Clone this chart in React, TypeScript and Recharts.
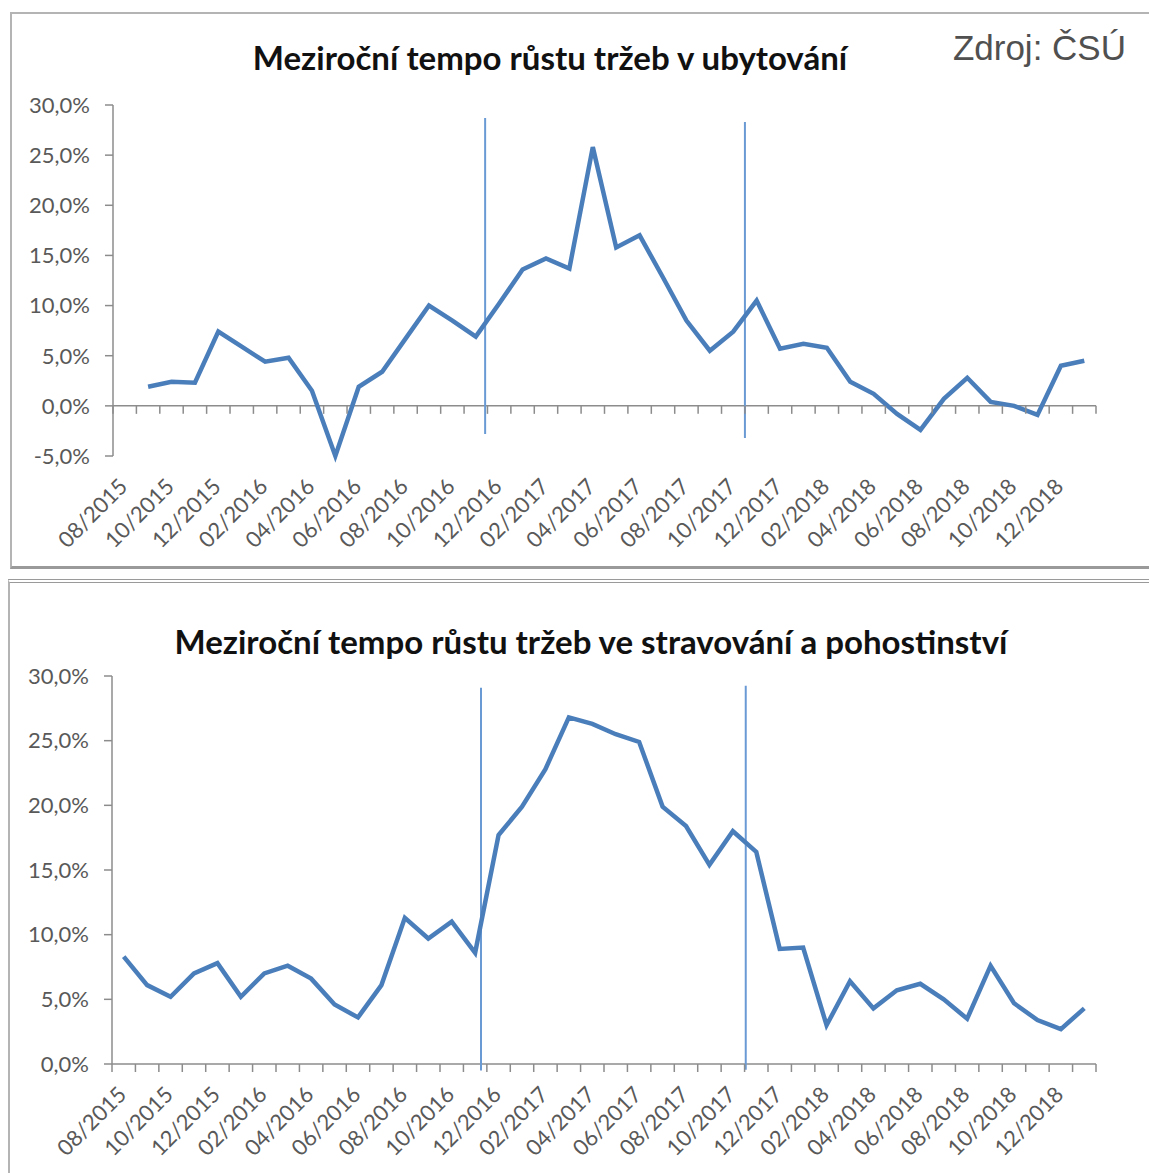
import React from 'react';
import { ComposedChart, Line, XAxis, YAxis, ReferenceLine, Scatter } from 'recharts';

const months = [
  '08/2015', '09/2015', '10/2015', '11/2015', '12/2015',
  '01/2016', '02/2016', '03/2016', '04/2016', '05/2016', '06/2016', '07/2016', '08/2016', '09/2016', '10/2016', '11/2016', '12/2016',
  '01/2017', '02/2017', '03/2017', '04/2017', '05/2017', '06/2017', '07/2017', '08/2017', '09/2017', '10/2017', '11/2017', '12/2017',
  '01/2018', '02/2018', '03/2018', '04/2018', '05/2018', '06/2018', '07/2018', '08/2018', '09/2018', '10/2018', '11/2018', '12/2018',
  '01/2019',
];

const ubytovani: (number | null)[] = [
  null, 1.9, 2.4, 2.3, 7.4, 5.9, 4.4, 4.8, 1.5, -5.0, 1.9, 3.4, 6.7, 10.0, 8.5, 6.9, 10.2,
  13.6, 14.7, 13.7, 25.8, 15.8, 17.0, 12.8, 8.5, 5.5, 7.4, 10.5, 5.7,
  6.2, 5.8, 2.4, 1.2, -0.8, -2.4, 0.7, 2.8, 0.4, 0.0, -0.9, 4.0, 4.5,
];

const stravovani: number[] = [
  8.3, 6.1, 5.2, 7.0, 7.8, 5.2, 7.0, 7.6, 6.6, 4.6, 3.6, 6.1, 11.3, 9.7, 11.0, 8.6, 17.7,
  19.9, 22.8, 26.8, 26.3, 25.5, 24.9, 19.9, 18.4, 15.4, 18.0, 16.4, 8.9,
  9.0, 3.0, 6.4, 4.3, 5.7, 6.2, 5.0, 3.5, 7.6, 4.7, 3.4, 2.7, 4.3,
];

const yTicksTop = [-5, 0, 5, 10, 15, 20, 25, 30];
const yTicksBottom = [0, 5, 10, 15, 20, 25, 30];

// vertical marker lines (position in month units, top and bottom value)
const markersTop = [
  { at: 15.9, from: 28.7, to: -2.8 },
  { at: 27.0, from: 28.3, to: -3.2 },
];
const markersBottom = [
  { at: 15.75, from: 29.1, to: -0.5 },
  { at: 27.05, from: 29.25, to: -0.45 },
];

const titleTop = 'Meziroční tempo růstu tržeb v ubytování';
const titleBottom = 'Meziroční tempo růstu tržeb ve stravování a pohostinství';
const sourceText = 'Zdroj: ČSÚ';

const AXIS = '#8c8c8c';
const LABEL = '#595959';
const LINE = '#4A7EBB';
const MARK = '#6a9ad4';
const FONT = 'Lato, "Open Sans", sans-serif';

const buildRows = (series: (number | null)[]) =>
  months.map((m, i) => ({ x: i + 0.5, month: m, v: series[i] }));

const boundaryRows = Array.from({ length: months.length + 1 }, (_, i) => ({ x: i, z: 0 }));
const labelTicks = months.map((_, i) => i + 0.5).filter((_, i) => i % 2 === 0);

const fmtPct = (v: number) => v.toFixed(1).replace('.', ',') + '%';

const XTick = (props: any) => {
  const { x, y, payload } = props;
  const idx = Math.floor(payload.value);
  return (
    <g transform={`translate(${x + 4},${y + 32})`}>
      <text transform="rotate(-45)" textAnchor="end" fill={LABEL} fontSize={22} fontFamily={FONT}>
        {months[idx]}
      </text>
    </g>
  );
};

const TickMark = (props: any) => {
  const { cx, cy } = props;
  return <line x1={cx} y1={cy} x2={cx} y2={cy + 8} stroke={AXIS} strokeWidth={1.5} />;
};

type PanelProps = {
  series: (number | null)[];
  yTicks: number[];
  markers: { at: number; from: number; to: number }[];
  width: number;
  height: number;
  margin: { top: number; right: number; bottom: number; left: number };
};

const Panel = ({ series, yTicks, markers, width, height, margin }: PanelProps) => {
  const rows = buildRows(series);
  return (
    <ComposedChart width={width} height={height} data={rows} margin={margin}>
      <XAxis
        dataKey="x"
        type="number"
        domain={[0, months.length]}
        ticks={labelTicks}
        interval={0}
        tick={<XTick />}
        axisLine={false}
        tickLine={false}
        tickSize={0}
        tickMargin={0}
        height={100}
      />
      <YAxis
        type="number"
        domain={[yTicks[0], yTicks[yTicks.length - 1]]}
        ticks={yTicks}
        interval={0}
        tickFormatter={fmtPct}
        width={100}
        tickSize={8}
        tickMargin={15}
        axisLine={{ stroke: AXIS, strokeWidth: 1.5 }}
        tickLine={{ stroke: AXIS, strokeWidth: 1.5 }}
        tick={{ fill: LABEL, fontSize: 22, fontFamily: FONT }}
      />
      <ReferenceLine y={0} stroke={AXIS} strokeWidth={1.5} ifOverflow="visible" />
      {markers.map((m, i) => (
        <ReferenceLine
          key={i}
          segment={[{ x: m.at, y: m.from }, { x: m.at, y: m.to }]}
          stroke={MARK}
          strokeWidth={2}
          ifOverflow="visible"
        />
      ))}
      <Scatter data={boundaryRows} dataKey="z" shape={TickMark} isAnimationActive={false} />
      <Line
        dataKey="v"
        type="linear"
        stroke={LINE}
        strokeWidth={4.5}
        dot={false}
        activeDot={false}
        isAnimationActive={false}
        connectNulls={false}
      />
    </ComposedChart>
  );
};

export default function App() {
  return (
    <div style={{ position: 'absolute', left: 0, top: 0, width: 1149, height: 1173, overflow: 'hidden', background: '#fff' }}>
      {/* panel frames */}
      <div style={{ position: 'absolute', left: 10, top: 12, width: 1200, height: 552, borderLeft: '2px solid #b4b4b4', borderTop: '2px solid #b4b4b4', borderBottom: '3px solid #9a9a9a' }} />
      <div style={{ position: 'absolute', left: 8, top: 579, width: 1200, height: 640, borderLeft: '2px solid #b4b4b4', borderTop: '4px double #9a9a9a' }} />

      <div style={{ position: 'absolute', left: 0, top: 0 }}>
        <Panel
          series={ubytovani}
          yTicks={yTicksTop}
          markers={markersTop}
          width={1149}
          height={560}
          margin={{ top: 105, right: 53, bottom: 4, left: 13 }}
        />
      </div>
      <div style={{ position: 'absolute', left: 0, top: 580 }}>
        <Panel
          series={stravovani}
          yTicks={yTicksBottom}
          markers={markersBottom}
          width={1149}
          height={593}
          margin={{ top: 96, right: 53, bottom: 9, left: 12 }}
        />
      </div>

      <svg width={1149} height={1173} style={{ position: 'absolute', left: 0, top: 0, pointerEvents: 'none' }}>
        <text x={550} y={70} textAnchor="middle" fontFamily={FONT} fontWeight={700} fontSize={33} fill="#111">
          {titleTop}
        </text>
        <text x={591} y={654} textAnchor="middle" fontFamily={FONT} fontWeight={700} fontSize={33} fill="#111">
          {titleBottom}
        </text>
        <text x={1126} y={60} textAnchor="end" fontFamily='"Liberation Sans", Arial, sans-serif' fontSize={35} fill="#505050">
          {sourceText}
        </text>
      </svg>
    </div>
  );
}
